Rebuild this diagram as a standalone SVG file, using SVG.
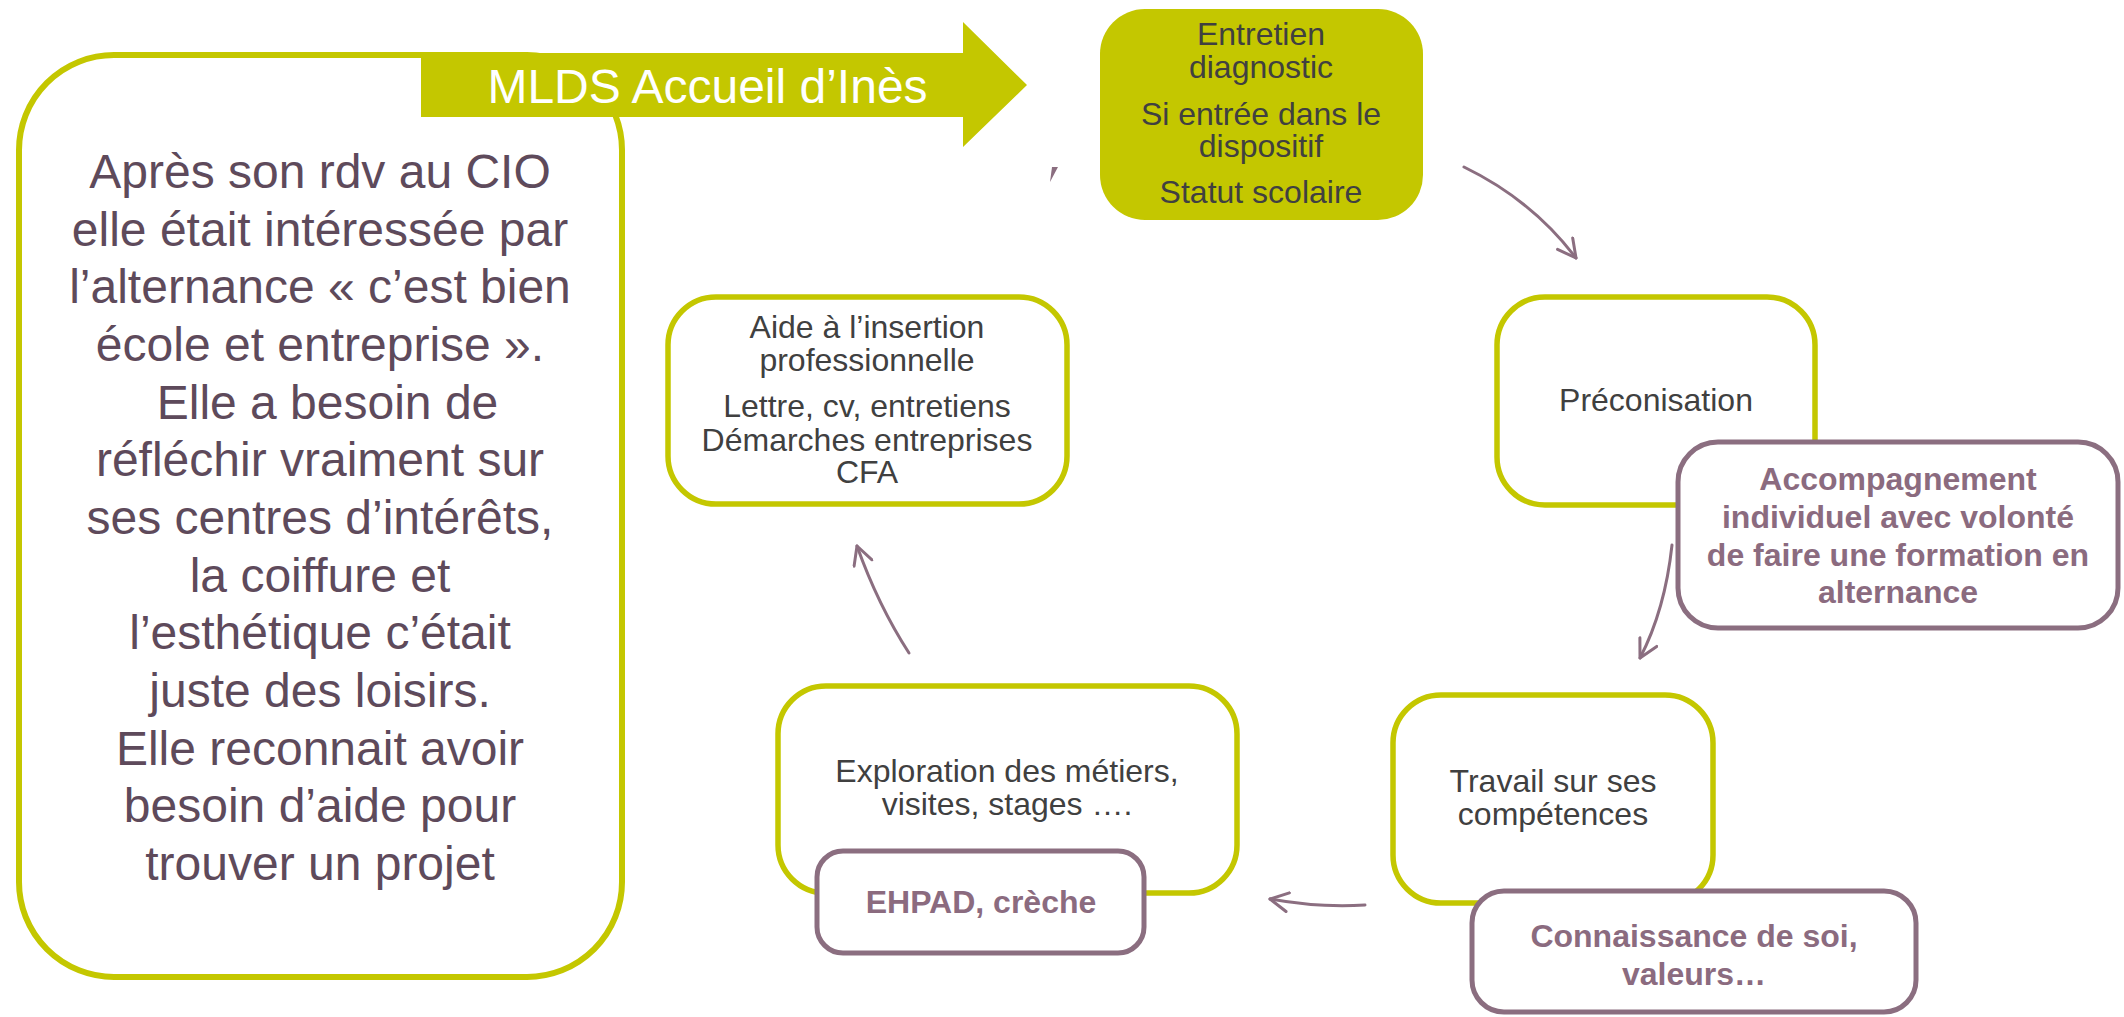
<svg xmlns="http://www.w3.org/2000/svg" width="2124" height="1017" viewBox="0 0 2124 1017">
<defs>
<style>
.t{font-family:"Liberation Sans",Arial,sans-serif;text-anchor:middle}
.reg{font-size:32px;fill:#404040}
.bold{font-size:32px;font-weight:bold;fill:#8B6B7F}
.big{font-size:48px;fill:#5E4A5B}
.ol{fill:#fff;stroke:#C4C700;stroke-width:5.5}
.mv{fill:#fff;stroke:#8B6E80;stroke-width:5}
.con{fill:none;stroke:#8B6E80;stroke-width:3;stroke-linecap:round}
</style>
<marker id="ah" viewBox="0 0 22 22" refX="20" refY="11" markerWidth="22" markerHeight="22" markerUnits="userSpaceOnUse" orient="auto">
<path d="M2,1.5 L20,11 L2,20.5" fill="none" stroke="#8B6E80" stroke-width="3" stroke-linecap="round" stroke-linejoin="round"/>
</marker>
</defs>
<rect width="2124" height="1017" fill="#fff"/>

<g id="node-ines">
<rect x="19" y="55" width="603" height="922" rx="95" ry="95" fill="#fff" stroke="#C4C700" stroke-width="6"/>
<g class="t big">
<text x="320" y="188">Après son rdv au CIO</text>
<text x="320" y="245.7">elle était intéressée par</text>
<text x="320" y="303.3">l’alternance « c’est bien</text>
<text x="320" y="361">école et entreprise ».</text>
<text x="327.5" y="418.7">Elle a besoin de</text>
<text x="320" y="476.3">réfléchir vraiment sur</text>
<text x="320" y="534">ses centres d’intérêts,</text>
<text x="320" y="591.7">la coiffure et</text>
<text x="320" y="649.3">l’esthétique c’était</text>
<text x="320" y="707">juste des loisirs.</text>
<text x="320" y="764.7">Elle reconnait avoir</text>
<text x="320" y="822.3">besoin d’aide pour</text>
<text x="320" y="880">trouver un projet</text>
</g>
</g>

<g id="node-mlds">
<path d="M421,53 L963,53 L963,22 L1027,85 L963,147 L963,117 L421,117 Z" fill="#C4C700"/>
<text class="t" x="707.5" y="102.5" font-size="48" fill="#fff">MLDS Accueil d’Inès</text>
</g>

<g id="node-entretien">
<rect x="1100" y="9" width="323" height="211" rx="45" ry="45" fill="#C4C700"/>
<g class="t reg">
<text x="1261" y="45">Entretien</text>
<text x="1261" y="78">diagnostic</text>
<text x="1261" y="125">Si entrée dans le</text>
<text x="1261" y="157">dispositif</text>
<text x="1261" y="203">Statut scolaire</text>
</g>
</g>

<g id="node-preconisation">
<rect class="ol" x="1497" y="297" width="318" height="208" rx="48" ry="48"/>
<text class="t reg" x="1656" y="411">Préconisation</text>
</g>

<g id="node-accompagnement">
<rect class="mv" x="1678" y="442" width="440" height="186" rx="40" ry="40"/>
<g class="t bold">
<text x="1898" y="490">Accompagnement</text>
<text x="1898" y="528">individuel avec volonté</text>
<text x="1898" y="566">de faire une formation en</text>
<text x="1898" y="603">alternance</text>
</g>
</g>

<g id="node-travail">
<rect class="ol" x="1393" y="695" width="320" height="208" rx="48" ry="48"/>
<g class="t reg">
<text x="1553" y="792">Travail sur ses</text>
<text x="1553" y="825">compétences</text>
</g>
</g>

<g id="node-connaissance">
<rect class="mv" x="1472" y="891" width="444" height="121" rx="32" ry="32"/>
<g class="t bold">
<text x="1694" y="947">Connaissance de soi,</text>
<text x="1694" y="985">valeurs…</text>
</g>
</g>

<g id="node-exploration">
<rect class="ol" x="778" y="686" width="459" height="207" rx="48" ry="48"/>
<g class="t reg">
<text x="1007" y="782">Exploration des métiers,</text>
<text x="1007" y="815">visites, stages ….</text>
</g>
</g>

<g id="node-ehpad">
<rect class="mv" x="817" y="851" width="327" height="102" rx="26" ry="26"/>
<text class="t bold" x="981" y="913">EHPAD, crèche</text>
</g>

<g id="node-aide">
<rect class="ol" x="668" y="297" width="399" height="207" rx="48" ry="48"/>
<g class="t reg">
<text x="867" y="338">Aide à l’insertion</text>
<text x="867" y="371">professionnelle</text>
<text x="867" y="417">Lettre, cv, entretiens</text>
<text x="867" y="451">Démarches entreprises</text>
<text x="867" y="483">CFA</text>
</g>
</g>

<g id="connectors">
<path class="con" d="M1464,167 Q1532,200 1576,258" marker-end="url(#ah)"/>
<path class="con" d="M1672,545 Q1665,610 1640,658" marker-end="url(#ah)"/>
<path class="con" d="M1365,905 Q1320,908 1270,899" marker-end="url(#ah)"/>
<path class="con" d="M909,653 Q878,605 857,546" marker-end="url(#ah)"/>
<polygon points="1052,167 1058,167 1050,182" fill="#8B6E80"/>
</g>
</svg>
